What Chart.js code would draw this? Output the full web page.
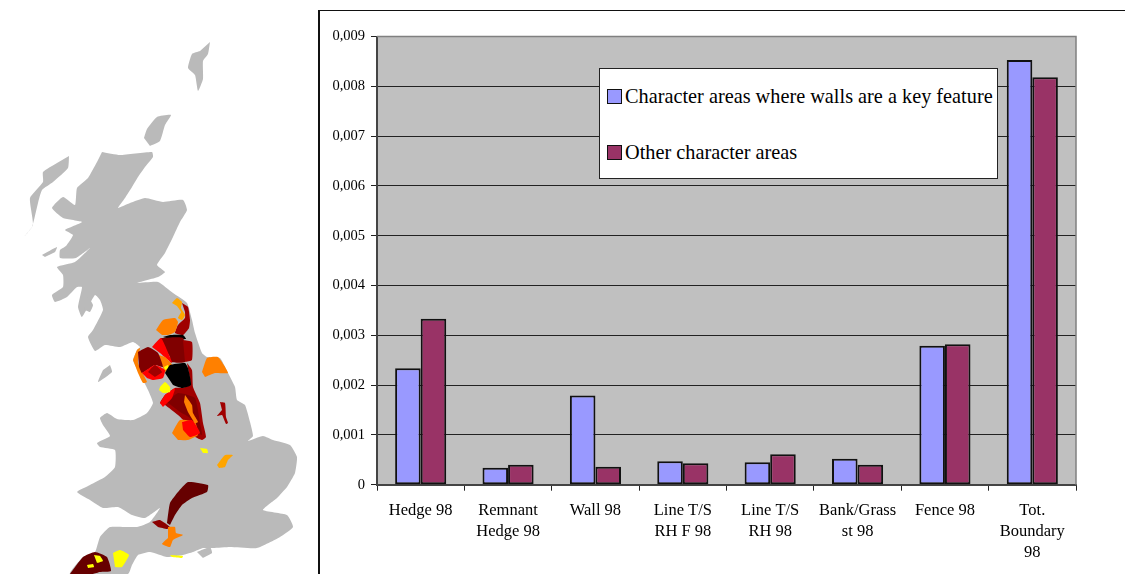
<!DOCTYPE html>
<html>
<head>
<meta charset="utf-8">
<title>Boundary density by character area</title>
<script src="https://cdn.jsdelivr.net/npm/chart.js@4"></script>
<style>
  html, body { margin: 0; padding: 0; background: #fff; overflow: hidden; }
  #page { position: relative; width: 1125px; height: 574px; overflow: hidden; }
  #map-chart { position: absolute; left: 0; top: 0; }
  #frame { position: absolute; left: 318px; top: 10px; width: 807px; height: 564px; box-sizing: border-box;
    border-left: 2px solid #111; border-top: 1.5px solid #111; }
  #bar-chart { position: absolute; left: 320px; top: 0; }
  #legend { position: absolute; left: 599px; top: 68px; width: 399px; height: 111px; box-sizing: border-box;
    background: #fff; border: 1px solid #222; border-right-width: 1.5px; border-bottom-width: 1.5px;
    font-family: "Liberation Serif", serif; font-size: 20.3px; color: #000; white-space: nowrap; }
  .leg-row { position: absolute; left: 7px; height: 20px; line-height: 20px; }
  .leg-box { position: absolute; left: 0; top: 3px; width: 14.5px; height: 14.5px; box-sizing: border-box; border: 1.5px solid #111; }
  .leg-text { position: absolute; left: 18px; top: 0; }
</style>
</head>
<body>
<div id="page">
  <canvas id="map-chart" width="318" height="574"></canvas>
  <div id="frame"></div>
  <canvas id="bar-chart" width="805" height="574"></canvas>
  <div id="legend"></div>
</div>
<script>
// chart values
const categories = ['Hedge 98', ['Remnant', 'Hedge 98'], 'Wall 98', ['Line T/S', 'RH F 98'], ['Line T/S', 'RH 98'], ['Bank/Grass', 'st 98'], 'Fence 98', ['Tot.', 'Boundary', '98']];
const wallAreas = [0.00234, 0.00034, 0.00179, 0.00047, 0.00045, 0.00052, 0.00279, 0.00853];
const otherAreas = [0.00333, 0.0004, 0.00036, 0.00043, 0.00061, 0.0004, 0.00282, 0.00818];
const seriesNames = ['Character areas where walls are a key feature', 'Other character areas'];
const yMax = 0.009;
const yStep = 0.001;

// map outlines
const mainland = [[102,152],[120,155],[152,152],[153,157],[145,167],[138,177],[132,187],[125,198],[118,208],[130,203],[145,198],[163,202],[183,200],[187,210],[180,222],[173,237],[165,253],[157,265],[165,272],[158,277],[137,283],[158,282],[173,293],[187,303],[192,320],[195,333],[202,353],[207,357],[220,358],[228,373],[235,387],[237,400],[245,405],[250,422],[253,436],[248,441],[263,436],[273,440],[290,445],[297,457],[295,473],[287,487],[277,498],[263,510],[287,515],[293,527],[280,537],[257,548],[230,547],[213,548],[203,548],[193,552],[183,555],[167,557],[150,552],[138,555],[132,565],[128,574],[70,574],[83,557],[95,552],[100,537],[110,527],[137,527],[150,522],[160,508],[145,518],[132,515],[118,507],[103,508],[90,500],[77,492],[90,485],[105,477],[115,467],[115,450],[100,447],[97,443],[110,436],[103,425],[100,418],[107,413],[117,419],[133,420],[147,413],[153,403],[148,390],[143,380],[135,365],[133,360],[137,350],[140,347],[133,342],[120,347],[105,345],[95,351],[88,337],[93,330],[103,310],[100,300],[95,295],[82,317],[78,307],[82,287],[77,287],[67,297],[55,302],[52,295],[63,287],[63,275],[57,267],[75,262],[90,248],[76,258],[60,258],[60,250],[66,246],[73,235],[65,230],[82,222],[63,218],[52,208],[63,197],[75,205],[77,188],[88,178],[97,162]];
const shetland = [[210,42],[208,54],[203,61],[203,79],[198,91],[195,75],[188,68],[192,54],[200,51]];
const orkney = [[144,138],[147,129],[157,117],[171,115],[165,125],[160,141],[150,146]];
const hebrides = [[69,156],[68,168],[53,182],[42,190],[38,203],[32,227],[23,238],[33,225],[30,198],[43,182],[43,172],[57,163]];
const isleOfMan = [[110,365],[112,372],[98,382],[103,370]];
const isleOfWight = [[197,552],[210,547],[212,553],[203,558]];
const mull = [[42,255],[57,247],[55,252],[45,257]];
const arran = [[84,303],[88,297],[93,305],[90,312],[85,310]];

const greyLand = [mainland, shetland, orkney, hebrides, isleOfMan, isleOfWight, mull, arran];
const mapAreas = [
  ['#a00000', [[182,303],[188,307],[190,320],[189,328],[183,335],[175,333],[178,325],[185,318],[185,312]]],
  ['#ffa500', [[172,303],[177,298],[182,302],[181,308],[185,315],[182,320],[178,318],[181,312],[177,306]]],
  ['#ff8000', [[156,330],[163,320],[175,318],[178,322],[175,332],[168,335],[162,335]]],
  ['#000000', [[170,335],[183,335],[186,339],[170,339],[163,337]]],
  ['#800000', [[161,338],[183,338],[185,362],[170,362],[170,357],[162,345]]],
  ['#a00000', [[183,340],[192,342],[192,360],[185,362]]],
  ['#ff0000', [[152,347],[161,338],[170,357],[172,363],[160,353]]],
  ['#ff8000', [[158,355],[165,357],[172,365],[165,372],[162,365]]],
  ['#ff8000', [[133,360],[137,350],[140,348],[138,363],[147,382],[143,383],[138,373]]],
  ['#800000', [[138,352],[148,347],[158,353],[163,367],[155,365],[142,373],[139,367]]],
  ['#ff0000', [[142,373],[155,365],[165,370],[163,378],[153,380],[147,378]]],
  ['#a00000', [[148,372],[155,365],[162,372],[155,377]]],
  ['#ffff00', [[164,367],[168,365],[169,368],[165,370]]],
  ['#a00000', [[187,363],[192,370],[193,387],[200,403],[203,423],[206,437],[202,440],[192,435],[185,422],[178,415],[165,405],[160,403],[165,395],[175,388],[182,388],[191,385]]],
  ['#000000', [[165,373],[170,365],[185,363],[188,368],[191,385],[182,388],[173,385]]],
  ['#800000', [[167,402],[178,393],[195,398],[200,423],[202,435],[195,430],[190,418],[180,412]]],
  ['#ff8000', [[185,395],[192,405],[193,413],[198,422],[195,423],[188,412],[184,402]]],
  ['#ff0000', [[160,403],[165,395],[175,388],[172,398],[163,407]]],
  ['#ffff00', [[160,387],[165,382],[170,387],[170,392],[163,393],[159,390]]],
  ['#ff8000', [[172,433],[180,420],[195,422],[198,435],[188,440],[178,440]]],
  ['#ff0000', [[182,422],[192,420],[200,433],[190,437],[183,430]]],
  ['#a00000', [[220,402],[225,403],[226,417],[228,423],[226,424],[222,415],[217,416],[222,410]]],
  ['#ff8000', [[202,372],[207,358],[218,357],[228,373],[215,373],[205,377]]],
  ['#ffff00', [[200,448],[207,449],[208,453],[203,453]]],
  ['#ffa500', [[217,465],[225,455],[233,455],[228,460],[225,467],[219,468]]],
  ['#660000', [[167,523],[170,503],[178,492],[188,482],[208,485],[207,492],[192,498],[182,505],[175,515],[170,525]]],
  ['#8b0000', [[152,522],[160,520],[170,527],[167,529],[158,527]]],
  ['#ff8000', [[168,527],[175,527],[176,533],[183,535],[173,540],[170,547],[162,544],[168,538]]],
  ['#ffff00', [[113,553],[120,550],[129,555],[122,567],[115,567]]],
  ['#660000', [[70,574],[83,557],[95,552],[107,557],[111,571],[100,572],[93,574]]],
  ['#ffff00', [[94,555],[100,556],[103,561],[97,563]]],
  ['#ffff00', [[87,565],[93,564],[94,567],[88,568]]],
  ['#ffff00', [[170,555],[183,556],[182,558],[172,557]]]
];

function shapeDataset(points, color) {
  return {
    data: points.map(p => ({ x: p[0], y: p[1] })),
    showLine: true,
    fill: 'shape',
    backgroundColor: color,
    borderWidth: 0,
    pointRadius: 0,
    tension: 0.15
  };
}

// later datasets paint over earlier ones, so reverse the draw order
const mapLayers = greyLand.map(s => shapeDataset(s, '#bababa'))
  .concat(mapAreas.map(a => shapeDataset(a[1], a[0])));
mapLayers.forEach((d, i) => { d.order = mapLayers.length - i; });

new Chart(document.getElementById('map-chart'), {
  type: 'scatter',
  data: { datasets: mapLayers },
  options: {
    responsive: false,
    animation: false,
    layout: { padding: 0 },
    plugins: { legend: { display: false }, tooltip: { enabled: false } },
    scales: {
      x: { display: false, min: 0, max: 318 },
      y: { display: false, min: 0, max: 574, reverse: true }
    }
  }
});

const plotBackground = {
  id: 'plotBackground',
  beforeDraw(chart) {
    const a = chart.chartArea;
    chart.ctx.fillStyle = '#c0c0c0';
    chart.ctx.fillRect(a.left, a.top, a.width, a.height);
  },
  afterDatasetsDraw(chart) {
    const a = chart.chartArea;
    const ctx = chart.ctx;
    ctx.strokeStyle = '#808080';
    ctx.lineWidth = 1.5;
    ctx.beginPath();
    ctx.moveTo(a.left, a.top);
    ctx.lineTo(a.right, a.top);
    ctx.lineTo(a.right, a.bottom);
    ctx.stroke();
  }
};

const serif = '"Liberation Serif", serif';

const barChart = new Chart(document.getElementById('bar-chart'), {
  type: 'bar',
  data: {
    labels: categories,
    datasets: [
      { label: seriesNames[0], data: wallAreas, backgroundColor: '#9999ff' },
      { label: seriesNames[1], data: otherAreas, backgroundColor: '#993366' }
    ]
  },
  options: {
    responsive: false,
    animation: false,
    layout: { padding: { top: 36.5, right: 49, bottom: 0, left: 0 } },
    datasets: {
      bar: { barPercentage: 1, categoryPercentage: 0.585, borderColor: '#111', borderWidth: 2, borderSkipped: false }
    },
    plugins: { legend: { display: false }, tooltip: { enabled: false } },
    scales: {
      x: {
        offset: true,
        afterFit(scale) { scale.height = 89.3; },
        border: { color: '#444', width: 2 },
        grid: { drawOnChartArea: false, color: '#222', tickLength: 6 },
        ticks: {
          color: '#000', maxRotation: 0, autoSkip: false, padding: 9,
          font: { family: serif, size: 16.5, lineHeight: '21px' }
        }
      },
      y: {
        min: 0,
        max: yMax,
        afterFit(scale) { scale.width = 57; },
        border: { color: '#444', width: 2 },
        grid: { color: '#222', lineWidth: 1, tickLength: 6 },
        ticks: {
          stepSize: yStep,
          color: '#000',
          padding: 6,
          font: { family: serif, size: 14.5 },
          callback: v => (v === 0 ? '0' : v.toFixed(3).replace('.', ','))
        }
      }
    }
  },
  plugins: [plotBackground]
});

// legend sits inside the plot, so it's built as a plain box from the dataset labels
const legendEl = document.getElementById('legend');
const rowTops = [17, 73];
barChart.data.datasets.forEach((d, i) => {
  const row = document.createElement('div');
  row.className = 'leg-row';
  row.style.top = rowTops[i] + 'px';
  row.innerHTML = '<span class="leg-box" style="background:' + d.backgroundColor + '"></span><span class="leg-text">' + d.label + '</span>';
  legendEl.appendChild(row);
});
</script>
</body>
</html>
